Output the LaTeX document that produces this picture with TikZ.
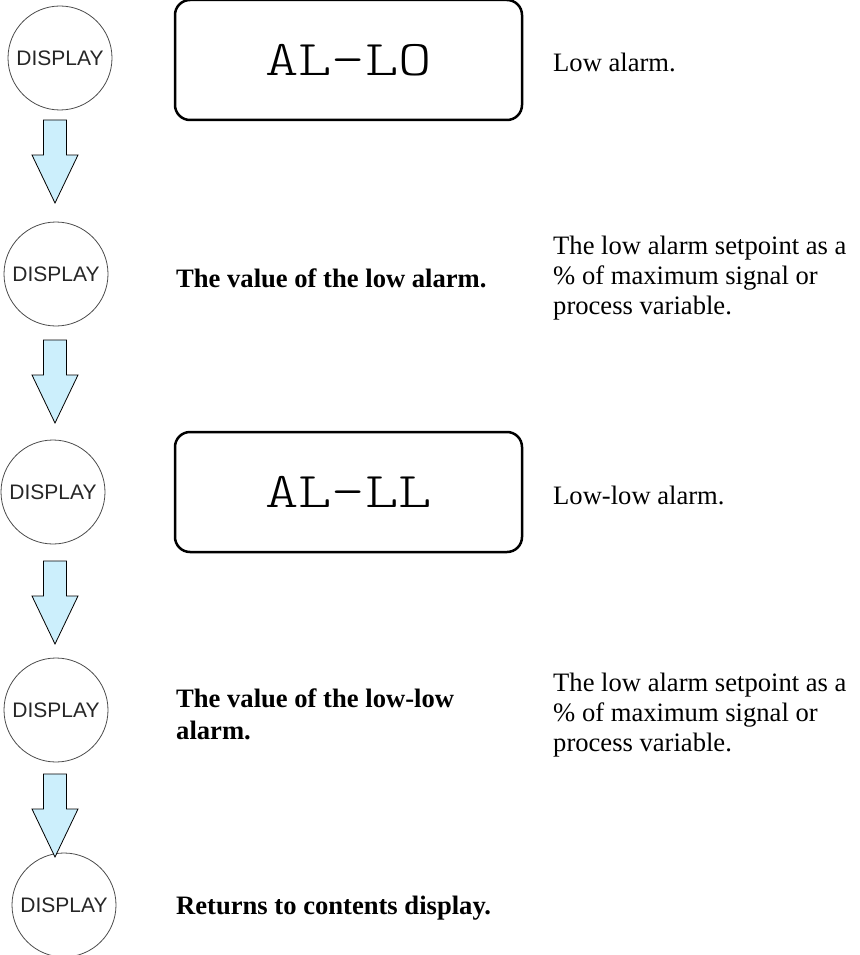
\documentclass[tikz,border=0pt]{standalone}
\usepackage{fontspec}
\setmainfont{Liberation Serif}
\setsansfont{Liberation Sans}
\newfontfamily\lcdfont{Latin Modern Mono Light}[FakeStretch=1.27]
\begin{document}
\begin{tikzpicture}[x=1pt, y=-1pt,
  disp/.style = {draw=black!70, line width=0.8pt, circle, minimum size=104pt, inner sep=0pt, text=black!85, font=\sffamily\fontsize{21}{21}\selectfont},
  lcd/.style = {draw, line width=2.5pt, rounded corners=15pt, minimum width=347pt, minimum height=120pt, inner sep=0pt, font=\lcdfont\fontsize{50}{50}\selectfont},
  note/.style = {anchor=west, inner sep=0pt, align=left, font=\fontsize{26.6}{30}\selectfont},
  bnote/.style = {note, font=\bfseries\fontsize{26.6}{32}\selectfont},
  flowarrow/.pic = {\draw[fill=cyan!20, line width=0.8pt] (-11.5,0) -- (11.5,0) -- (11.5,35) -- (23,35) -- (0,83) -- (-23,35) -- (-11.5,35) -- cycle;}]
  \useasboundingbox (0,0) rectangle (859,955);
  \node[disp] (d1) at (60,58) {DISPLAY};
  \node[disp] (d2) at (56,274) {DISPLAY};
  \node[disp] (d3) at (53,492) {DISPLAY};
  \node[disp] (d4) at (56,710) {DISPLAY};
  \node[disp] (d5) at (64,905) {DISPLAY};
  \node[lcd] (lo) at (348.5,60) {AL-LO};
  \node[lcd] (ll) at (348.5,492) {AL-LL};
  \node[note] (lonote) at (553,62) {Low alarm.};
  \node[bnote] (lovalue) at (176,278) {The value of the low alarm.};
  \node[note] (lonote2) at (553,278) {The low alarm setpoint as a\\ \% of maximum signal or\\ process variable.};
  \node[note] (llnote) at (553,495) {Low-low alarm.};
  \node[bnote] (llvalue) at (176,714) {The value of the low-low\\ alarm.};
  \node[note] (llnote2) at (553,715) {The low alarm setpoint as a\\ \% of maximum signal or\\ process variable.};
  \node[bnote] (back) at (176,908) {Returns to contents display.};
  \pic at (55,120) {flowarrow};
  \pic at (55,340) {flowarrow};
  \pic at (55,561) {flowarrow};
  \pic at (55,774) {flowarrow};
\end{tikzpicture}
\end{document}
